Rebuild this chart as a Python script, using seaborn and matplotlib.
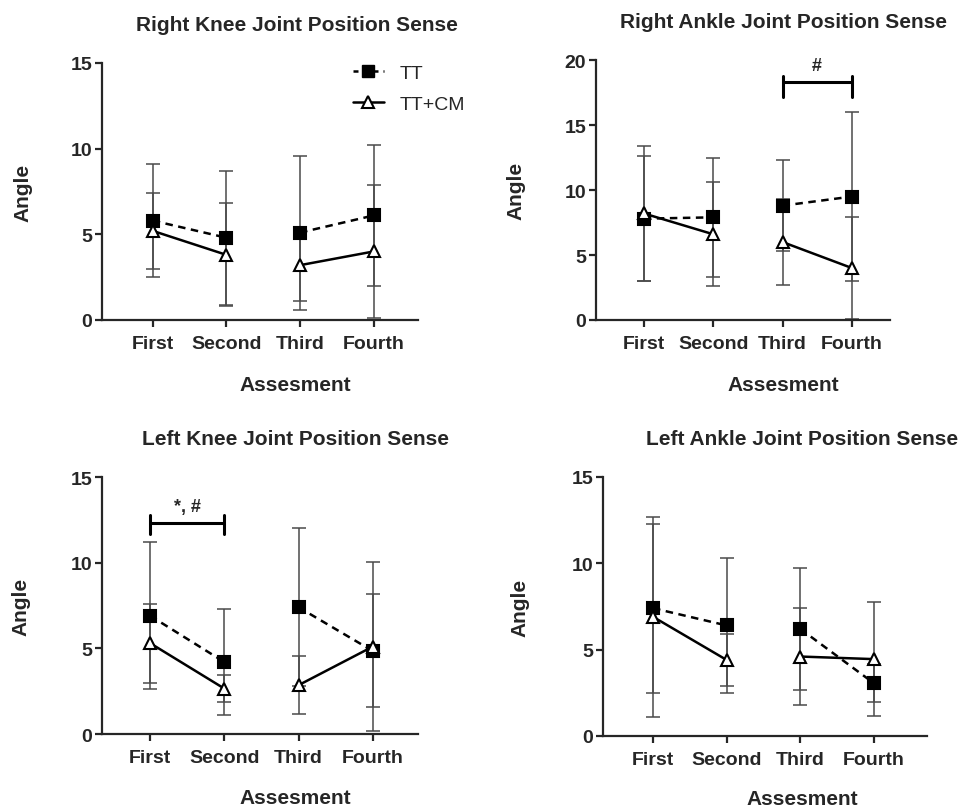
import pandas as pd
import numpy as np
import matplotlib
matplotlib.use("Agg")
import matplotlib.pyplot as plt
from matplotlib.lines import Line2D
import seaborn as sns

sns.set_style("ticks")
plt.rcParams['font.family'] = ['Liberation Sans', 'DejaVu Sans']

assessments = ["First", "Second", "Third", "Fourth"]
segments = [0, 0, 1, 1]   # First-Second and Third-Fourth are drawn as separate lines

# Right knee
rk_tt_mean = [5.8, 4.8, 5.1, 6.1]
rk_tt_sd = [3.3, 3.9, 4.5, 4.1]
rk_cm_mean = [5.2, 3.8, 3.2, 4.0]
rk_cm_sd = [2.2, 3.0, 2.1, 3.9]

# Right ankle
ra_tt_mean = [7.8, 7.9, 8.8, 9.5]
ra_tt_sd = [4.8, 4.6, 3.5, 6.5]
ra_cm_mean = [8.2, 6.6, 6.0, 4.0]
ra_cm_sd = [5.2, 4.0, 3.3, 3.9]

# Left knee
lk_tt_mean = [6.9, 4.2, 7.4, 4.85]
lk_tt_sd = [4.3, 3.1, 4.6, 3.3]
lk_cm_mean = [5.3, 2.65, 2.85, 5.1]
lk_cm_sd = [2.3, 0.8, 1.7, 4.95]

# Left ankle
la_tt_mean = [7.4, 6.4, 6.2, 3.05]
la_tt_sd = [4.9, 3.9, 3.55, 1.1]
la_cm_mean = [6.9, 4.4, 4.6, 4.45]
la_cm_sd = [5.8, 1.5, 2.8, 3.3]

panels = [
    # title, tt mean, tt sd, cm mean, cm sd, ymax, axes rect, xlim, title x, ylabel x, xlabel xy
    ("Right Knee Joint Position Sense", rk_tt_mean, rk_tt_sd, rk_cm_mean, rk_cm_sd, 15,
     [0.1056, 0.6047, 0.327, 0.3165], (-0.69, 3.6), 0.617, -0.22, (0.611, -0.215)),
    ("Right Ankle Joint Position Sense", ra_tt_mean, ra_tt_sd, ra_cm_mean, ra_cm_sd, 20,
     [0.617, 0.6047, 0.3043, 0.320], (-0.69, 3.55), 0.639, -0.24, (0.636, -0.212)),
    ("Left Knee Joint Position Sense", lk_tt_mean, lk_tt_sd, lk_cm_mean, lk_cm_sd, 15,
     [0.1056, 0.0948, 0.327, 0.3165], (-0.65, 3.61), 0.611, -0.225, (0.611, -0.21)),
    ("Left Ankle Joint Position Sense", la_tt_mean, la_tt_sd, la_cm_mean, la_cm_sd, 15,
     [0.6242, 0.0924, 0.3354, 0.319], (-0.68, 3.72), 0.614, -0.228, (0.614, -0.205)),
]

fig = plt.figure(figsize=(9.66, 8.12), dpi=100)
pos = np.arange(len(assessments))
err_col = "#4a4a4a"
axes = []

for title, tt_m, tt_s, cm_m, cm_s, ymax, rect, xlim, tx, ylab_x, xlab_xy in panels:
    ax = fig.add_axes(rect)
    axes.append(ax)
    for m, s in [(tt_m, tt_s), (cm_m, cm_s)]:
        ax.errorbar(pos, m, yerr=s, fmt='none', ecolor=err_col, elinewidth=1.1,
                    capsize=5, capthick=1.1, zorder=2, clip_on=False)
    for name, m, mk, ls, mfc, ms in [("TT", tt_m, 's', (0, (3, 2.2)), 'black', 8),
                                     ("TT+CM", cm_m, '^', '-', 'white', 9)]:
        df = pd.DataFrame({"pos": pos, "angle": m, "segment": segments})
        sns.lineplot(data=df, x="pos", y="angle", units="segment", estimator=None,
                     color="black", marker=mk, markersize=ms, markerfacecolor=mfc,
                     markeredgecolor="black", markeredgewidth=1.5, linestyle=ls,
                     linewidth=1.8, ax=ax, legend=False, zorder=3, clip_on=False)
    ax.set_xlim(*xlim)
    ax.set_ylim(0, ymax)
    ax.set_yticks(np.arange(0, ymax + 1, 5))
    ax.set_xticks(pos)
    ax.set_xticklabels(assessments)
    sns.despine(ax=ax)
    for sp in ["left", "bottom"]:
        ax.spines[sp].set_linewidth(1.6)
    ax.tick_params(axis="both", labelsize=14, width=1.6, length=5)
    ax.tick_params(axis="x", pad=6)
    ax.tick_params(axis="y", pad=2)
    for lab in ax.get_xticklabels() + ax.get_yticklabels():
        lab.set_fontweight("bold")
    ax.set_title(title, fontsize=15, fontweight="bold", x=tx, pad=24)
    ax.set_ylabel("Angle", fontsize=15, fontweight="bold")
    ax.set_xlabel("Assesment", fontsize=15, fontweight="bold")
    ax.yaxis.set_label_coords(ylab_x, 0.5)
    ax.xaxis.set_label_coords(*xlab_xy)

# significance brackets
ax = axes[1]
ax.plot([2, 3], [18.3, 18.3], color="black", lw=2.2)
ax.plot([2, 2], [17.2, 18.75], color="black", lw=2.2)
ax.plot([3, 3], [17.2, 18.75], color="black", lw=2.2)
ax.text(2.5, 18.9, "#", ha="center", va="bottom", fontsize=13, fontweight="bold")

ax = axes[2]
ax.plot([0, 1], [12.3, 12.3], color="black", lw=2.2)
ax.plot([0, 0], [11.7, 12.8], color="black", lw=2.2)
ax.plot([1, 1], [11.7, 12.8], color="black", lw=2.2)
ax.text(0.5, 12.8, "*, #", ha="center", va="bottom", fontsize=13, fontweight="bold")

handles = [
    Line2D([], [], color="black", linestyle=(0, (2, 2)), marker='s', markersize=8, lw=1.8),
    Line2D([], [], color="black", linestyle='-', marker='^', markersize=9,
           markerfacecolor='white', markeredgewidth=1.5, lw=1.8),
]
axes[0].legend(handles, ["TT", "TT+CM"], loc="upper left", bbox_to_anchor=(0.794, 0.995),
               frameon=False, fontsize=14, handlelength=1.6, handletextpad=0.8,
               borderpad=0, borderaxespad=0, labelspacing=0.7)

plt.savefig("out.png", dpi=100)
